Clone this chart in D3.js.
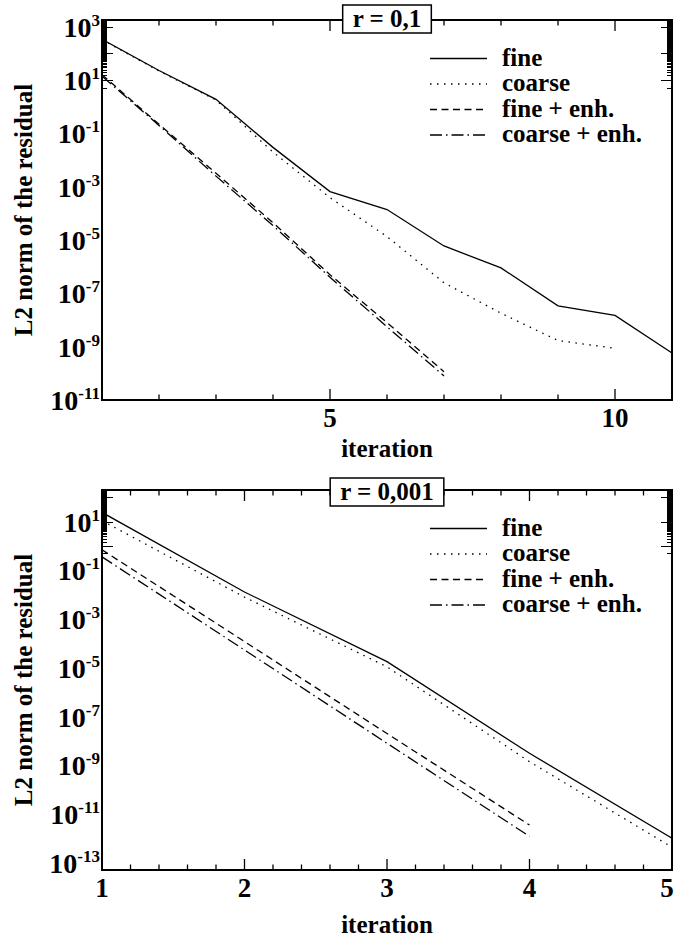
<!DOCTYPE html>
<html>
<head>
<meta charset="utf-8">
<title>L2 norm of the residual</title>
<script src="https://cdn.jsdelivr.net/npm/d3@7"></script>
<style>
    body { margin: 0; background: #fff; }
</style>
</head>
<body>
<script>
var w = 676, h = 941;

// values
var topIterations = [1, 2, 3, 4, 5, 6, 7, 8, 9, 10, 11];
var topFine = [340, 23, 1.9, 0.03, 6.6e-4, 1.4e-4, 6e-6, 9e-7, 3.4e-8, 1.5e-8, 5.8e-10];
var topCoarse = [330, 22, 1.8, 0.02, 3.9e-4, 1.35e-5, 2.5e-7, 1.8e-8, 1.7e-9, 8.7e-10];
var topFineEnh = [16, 0.22, 3.2e-3, 4.5e-5, 5e-7, 8e-9, 1.15e-10];
var topCoarseEnh = [14, 0.2, 2.5e-3, 3.5e-5, 4e-7, 5.6e-9, 8e-11];

var bottomIterations = [1, 2, 3, 4, 5];
var bottomFine = [24, 0.013, 1.8e-5, 3.1e-9, 1e-12];
var bottomCoarse = [11, 0.008, 1.1e-5, 1.4e-9, 4.3e-13];
var bottomFineEnh = [0.7, 1.2e-4, 2e-8, 3.5e-12];
var bottomCoarseEnh = [0.36, 5.4e-5, 8e-9, 1.2e-12];

var topYTickExps = [3, 1, -1, -3, -5, -7, -9, -11];
var bottomYTickExps = [1, -1, -3, -5, -7, -9, -11, -13];
var topXTickLabels = [5, 10];
var bottomXTickLabels = [1, 2, 3, 4, 5];

var legendLabels = ["fine", "coarse", "fine + enh.", "coarse + enh."];
var panelTitles = ["r = 0,1", "r = 0,001"];
var dashes = [null, "1.5,5.5", "7,4.5", "12,4,1.5,4"];

var svg = d3.select("body").append("svg")
    .attr("width", w)
    .attr("height", h)
    .attr("font-family", "'Liberation Serif', 'DejaVu Serif', serif")
    .attr("font-weight", "bold");

function drawPanel(p) {
    var left = 102, right = 672;
    var g = svg.append("g");

    var x = d3.scaleLinear().domain(p.xDomain).range([left, right]);
    var y = d3.scaleLog().domain(p.yDomain).range([p.bottom, p.top]);

    var clipId = "clip" + p.id;
    g.append("clipPath").attr("id", clipId)
        .append("rect")
        .attr("x", left).attr("y", p.top)
        .attr("width", right - left).attr("height", p.bottom - p.top);

    // series
    var line = d3.line()
        .x(function(d) { return x(d[0]); })
        .y(function(d) { return y(d[1]); });

    p.series.forEach(function(vals, i) {
        var pts = vals.map(function(v, k) { return [p.iterations[k], v]; });
        g.append("path")
            .datum(pts)
            .attr("clip-path", "url(#" + clipId + ")")
            .attr("d", line)
            .attr("fill", "none")
            .attr("stroke", "#000")
            .attr("stroke-width", 1.3)
            .attr("stroke-dasharray", dashes[i]);
    });

    // y ticks, both sides, inward
    y.ticks(300).forEach(function(d) {
        var l = Math.log10(d);
        var major = Math.abs(l - Math.round(l)) < 1e-9;
        var len = major ? 11 : 5;
        var yy = Math.round(y(d)) + 0.5;
        g.append("line").attr("x1", left).attr("x2", left + len).attr("y1", yy).attr("y2", yy)
            .attr("stroke", "#000").attr("stroke-width", 1);
        g.append("line").attr("x1", right).attr("x2", right - len).attr("y1", yy).attr("y2", yy)
            .attr("stroke", "#000").attr("stroke-width", 1);
    });

    // x ticks, top and bottom, inward
    x.ticks(p.xTickCount).forEach(function(d) {
        var len = p.isMajorX(d) ? 11 : 5.5;
        var xx = x(d);
        g.append("line").attr("x1", xx).attr("x2", xx).attr("y1", p.bottom).attr("y2", p.bottom - len)
            .attr("stroke", "#000").attr("stroke-width", 1.3);
        g.append("line").attr("x1", xx).attr("x2", xx).attr("y1", p.top).attr("y2", p.top + len)
            .attr("stroke", "#000").attr("stroke-width", 1.3);
    });

    // frame
    g.append("rect")
        .attr("x", left).attr("y", p.top)
        .attr("width", right - left).attr("height", p.bottom - p.top)
        .attr("fill", "none").attr("stroke", "#000").attr("stroke-width", 2);

    // y tick labels
    p.yLabels.forEach(function(e) {
        var t = g.append("text")
            .attr("x", 100)
            .attr("y", y(Math.pow(10, e)) + 10)
            .attr("text-anchor", "end")
            .attr("font-size", "28px");
        t.append("tspan").text("10");
        t.append("tspan").attr("dy", -11).attr("font-size", "17px").text(e);
    });

    // x tick labels
    g.selectAll(".xl")
        .data(p.xLabels)
        .enter()
        .append("text")
        .attr("x", function(d) { return Math.min(x(d), 667); })
        .attr("y", p.bottom + 27)
        .attr("text-anchor", "middle")
        .attr("font-size", "27px")
        .text(function(d) { return d; });

    // axis titles
    g.append("text")
        .attr("x", 387)
        .attr("y", p.bottom + p.xTitleOffset)
        .attr("text-anchor", "middle")
        .attr("font-size", "25px")
        .text("iteration");

    g.append("text")
        .attr("transform", "translate(32," + (p.top + p.bottom) / 2 + ") rotate(-90)")
        .attr("text-anchor", "middle")
        .attr("font-size", "25px")
        .text("L2 norm of the residual");

    // legend
    legendLabels.forEach(function(lab, i) {
        var ly = p.top + 38.5 + i * 25.5;
        g.append("line")
            .attr("x1", 430).attr("x2", 487)
            .attr("y1", ly).attr("y2", ly)
            .attr("stroke", "#000").attr("stroke-width", 1.3)
            .attr("stroke-dasharray", dashes[i]);
        g.append("text")
            .attr("x", 502)
            .attr("y", ly + 7)
            .attr("font-size", "25px")
            .text(lab);
    });

    // title box on the top edge
    var cx = 387, cy = p.top + p.titleDy;
    var tt = g.append("text")
        .attr("x", cx)
        .attr("y", cy + 8)
        .attr("text-anchor", "middle")
        .attr("font-size", "25px")
        .text(p.title);
    var bw = tt.node().getComputedTextLength() + 20;
    g.insert("rect", function() { return tt.node(); })
        .attr("x", cx - bw / 2).attr("y", cy - 14)
        .attr("width", bw).attr("height", 28)
        .attr("fill", "#fff").attr("stroke", "#000").attr("stroke-width", 1.5);
}

drawPanel({
    id: 1, top: 20, bottom: 400,
    xDomain: [1, 11], yDomain: [1e-11, 1.8e3],
    iterations: topIterations,
    series: [topFine, topCoarse, topFineEnh, topCoarseEnh],
    xTickCount: 10,
    isMajorX: function(d) { return d % 5 === 0; },
    yLabels: topYTickExps, xLabels: topXTickLabels,
    xTitleOffset: 57, title: panelTitles[0], titleDy: -1
});

drawPanel({
    id: 2, top: 490, bottom: 870,
    xDomain: [1, 5], yDomain: [5e-14, 2e2],
    iterations: bottomIterations,
    series: [bottomFine, bottomCoarse, bottomFineEnh, bottomCoarseEnh],
    xTickCount: 20,
    isMajorX: function(d) { return Math.abs(d - Math.round(d)) < 1e-6; },
    yLabels: bottomYTickExps, xLabels: bottomXTickLabels,
    xTitleOffset: 63, title: panelTitles[1], titleDy: 2
});
</script>
</body>
</html>
